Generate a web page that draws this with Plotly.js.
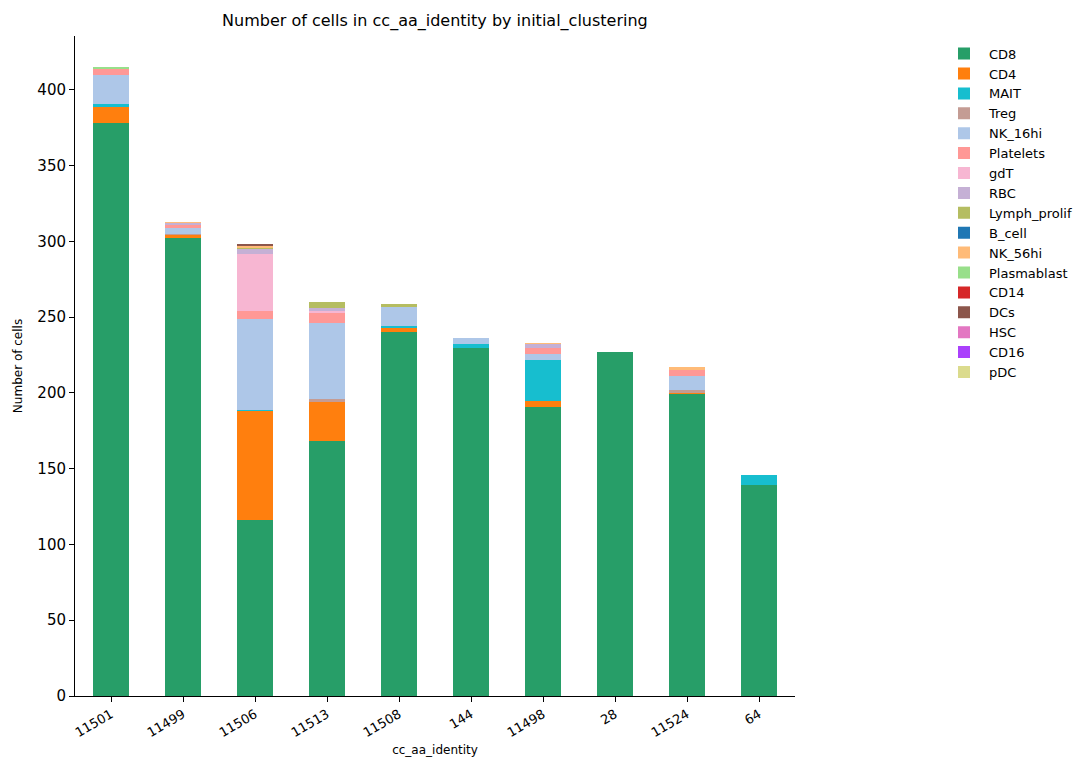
<!DOCTYPE html>
<html>
<head>
<meta charset="utf-8">
<script src="https://cdn.plot.ly/plotly-3.0.1.min.js"></script>
<style>html,body{margin:0;padding:0;background:#fff;}#chart{width:1090px;height:766px;}</style>
</head>
<body>
<div id="chart"></div>
<script>
const categories = ["11501","11499","11506","11513","11508","144","11498","28","11524","64"];
const cellTypes = ["CD8","CD4","MAIT","Treg","NK_16hi","Platelets","gdT","RBC","Lymph_prolif","B_cell","NK_56hi","Plasmablast","CD14","DCs","HSC","CD16","pDC"];
const colors = ["#279e68","#ff7f0e","#17becf","#c49c94","#aec7e8","#ff9896","#f7b6d2","#c5b0d5","#b5bd61","#1f77b4","#ffbb78","#98df8a","#d62728","#8c564b","#e377c2","#aa40fc","#dbdb8d"];

const CD8          = [378,302,116,168,240,230,191,227,199,139];
const CD4          = [11,2,72,26,3,0,4,0,1,0];
const MAIT         = [2,0,1,0,1,2,27,0,0,7];
const Treg         = [0,1,0,2,0,0,0,0,2,0];
const NK_16hi      = [19,4,60,50,13,4,4,0,9,0];
const Platelets    = [4,2,5,7,0,0,4,0,4,0];
const gdT          = [0,0,38,1,0,0,0,0,0,0];
const RBC          = [0,1,3,2,0,0,2,0,0,0];
const Lymph_prolif = [0,0,1,4,2,0,0,0,0,0];
const B_cell       = [0,0,0,0,0,0,0,0,0,0];
const NK_56hi      = [0,1,1,0,0,0,1,0,2,0];
const Plasmablast  = [1,0,0,0,0,0,0,0,0,0];
const CD14         = [0,0,0,0,0,0,0,0,0,0];
const DCs          = [0,0,1,0,0,0,0,0,0,0];
const HSC          = [0,0,0,0,0,0,0,0,0,0];
const CD16         = [0,0,0,0,0,0,0,0,0,0];
const pDC          = [0,0,0,0,0,0,0,0,0,0];

const series = [CD8,CD4,MAIT,Treg,NK_16hi,Platelets,gdT,RBC,Lymph_prolif,B_cell,NK_56hi,Plasmablast,CD14,DCs,HSC,CD16,pDC];

const traces = cellTypes.map((name, i) => ({
  type: 'bar',
  name: name,
  x: categories,
  y: series[i],
  width: 0.5,
  marker: {color: colors[i], line: {width: 0}},
  hoverinfo: 'x+y+name'
}));

const font = "DejaVu Sans, sans-serif";
const layout = {
  width: 1090, height: 766,
  margin: {l: 75, r: 295, t: 36, b: 70},
  paper_bgcolor: '#fff', plot_bgcolor: '#fff',
  barmode: 'stack',
  bargap: 0.5,
  font: {family: font, color: '#000'},
  title: {text: 'Number of cells in cc_aa_identity by initial_clustering', font: {size: 16, family: font, color: '#000'}, x: 0.399, xanchor: 'center', y: 0.974, yanchor: 'middle'},
  xaxis: {
    type: 'category', range: [-0.5, 9.5],
    showline: true, linecolor: '#000', linewidth: 1, mirror: false,
    ticks: 'outside', ticklen: 5, tickcolor: '#000',
    tickangle: -30, tickfont: {size: 13, family: font},
    showgrid: false, zeroline: false,
    title: {text: 'cc_aa_identity', font: {size: 12, family: font}, standoff: 6}
  },
  yaxis: {
    range: [0, 435.6], tickvals: [0,50,100,150,200,250,300,350,400],
    showline: true, linecolor: '#000', linewidth: 1, mirror: false,
    ticks: 'outside', ticklen: 5, tickcolor: '#000',
    tickfont: {size: 15, family: font},
    showgrid: false, zeroline: false,
    title: {text: 'Number of cells', font: {size: 12, family: font}, standoff: 12}
  },
  legend: {
    x: 1.2, y: 0.996, xanchor: 'left', yanchor: 'top',
    traceorder: 'normal', font: {size: 13, family: font},
    itemwidth: 40,
    bgcolor: 'rgba(0,0,0,0)', tracegroupgap: 0
  },
  showlegend: true
};

Plotly.newPlot('chart', traces, layout, {displayModeBar: false, staticPlot: true});
</script>
</body>
</html>
